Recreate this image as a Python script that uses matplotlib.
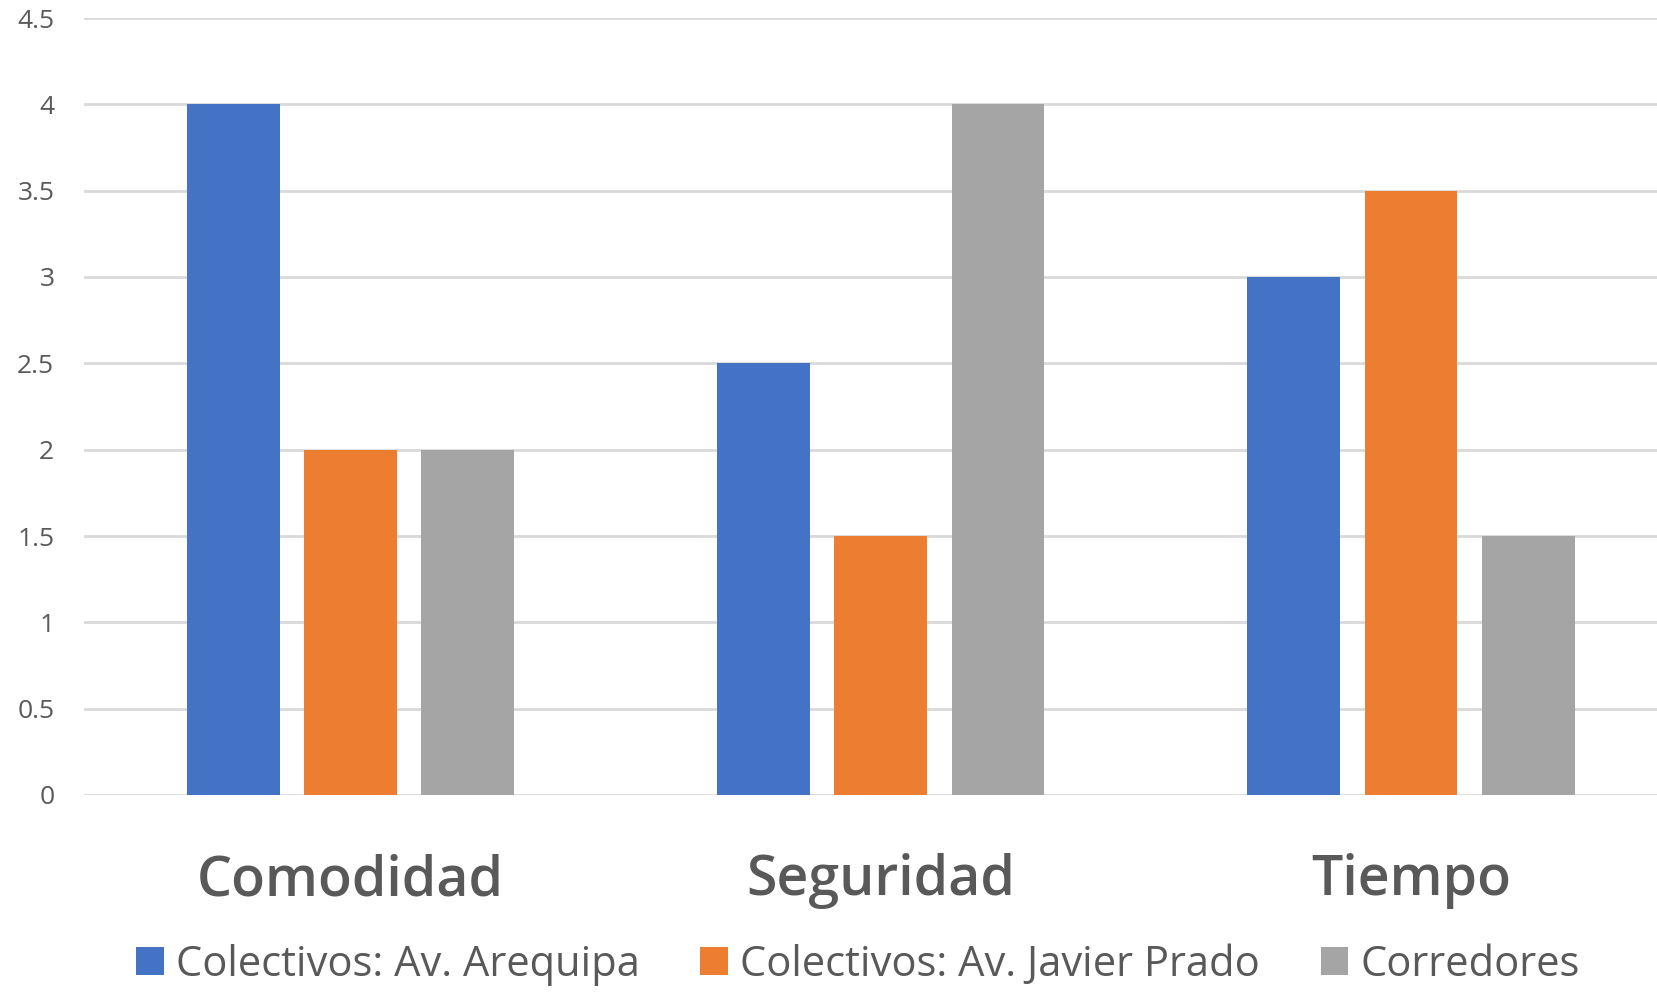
import matplotlib
matplotlib.use("Agg")
import matplotlib.pyplot as plt
import numpy as np

categories = ["Comodidad", "Seguridad", "Tiempo"]
series_names = ["Colectivos: Av. Arequipa", "Colectivos: Av. Javier Prado", "Corredores"]
arequipa = [4, 2.5, 3]
javier_prado = [2, 1.5, 3.5]
corredores = [2, 4, 1.5]
y_ticks = [0, 0.5, 1, 1.5, 2, 2.5, 3, 3.5, 4, 4.5]
y_tick_labels = ["0", "0.5", "1", "1.5", "2", "2.5", "3", "3.5", "4", "4.5"]

colors = ["#4472C4", "#ED7D31", "#A5A5A5"]
text_color = "#595959"

plt.rcParams['font.family'] = ['Open Sans', 'DejaVu Sans']

W, H = 1657, 993
fig = plt.figure(figsize=(W / 100, H / 100), dpi=100)
ax = fig.add_axes([83.5 / W, 1 - 795 / H, 1 - 83.5 / W, (795 - 18) / H])

x = np.arange(len(categories))
bw = 0.175
step = 0.221
for i, (vals, name) in enumerate(zip([arequipa, javier_prado, corredores], series_names)):
    ax.bar(x + (i - 1) * step, vals, width=bw, color=colors[i], label=name, zorder=3)

ax.set_ylim(0, 4.5)
ax.set_xlim(-0.504, 2.464)
ax.set_yticks(y_ticks)
ax.set_yticklabels(y_tick_labels)
ax.yaxis.grid(True, color="#D9D9D9", linewidth=2, zorder=0)
ax.set_axisbelow(True)
for s in ax.spines.values():
    s.set_visible(False)
ax.tick_params(axis='y', length=0, pad=21, labelsize=19, labelcolor=text_color)
ax.tick_params(axis='x', length=0, pad=42, labelsize=40, labelcolor=text_color)
ax.set_xticks(x)
ax.set_xticklabels(categories, fontweight='semibold')

leg = fig.legend(loc='center', bbox_to_anchor=(858 / W, 1 - 965 / H), ncol=3,
                 frameon=False, fontsize=30, labelcolor=text_color,
                 handlelength=0.66, handleheight=0.66, handletextpad=0.3,
                 columnspacing=1.45)

fig.savefig("out.png", dpi=100)
